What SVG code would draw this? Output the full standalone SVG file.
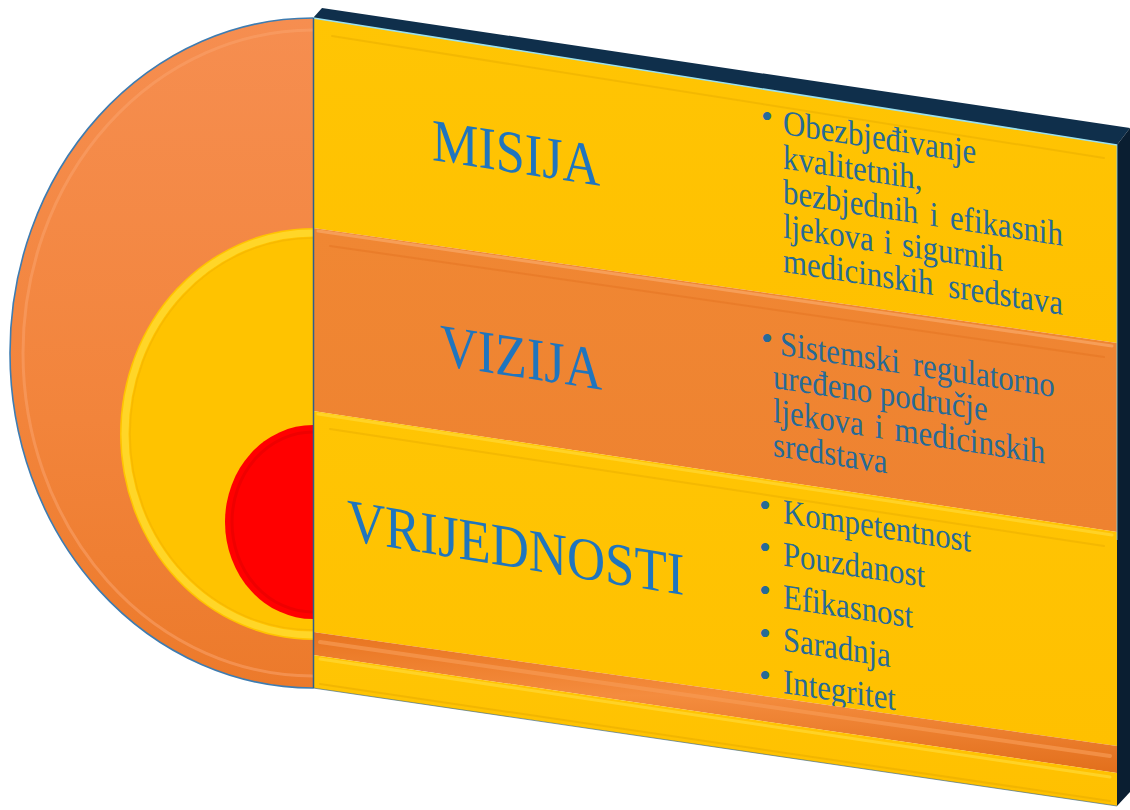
<svg xmlns="http://www.w3.org/2000/svg" width="1130" height="810" viewBox="0 0 1130 810">
<defs>
  <linearGradient id="gOrBig" x1="0" y1="0" x2="0" y2="1">
    <stop offset="0" stop-color="#F68E50"/>
    <stop offset="0.6" stop-color="#F2843B"/>
    <stop offset="1" stop-color="#EC7A2B"/>
  </linearGradient>
  <linearGradient id="gYel" x1="0" y1="0" x2="0" y2="1">
    <stop offset="0" stop-color="#FFC504"/>
    <stop offset="1" stop-color="#FFC000"/>
  </linearGradient>
  <linearGradient id="gOr" x1="0" y1="0" x2="0" y2="1">
    <stop offset="0" stop-color="#F08733"/>
    <stop offset="1" stop-color="#EE8230"/>
  </linearGradient>
  <linearGradient id="gTube" x1="0" y1="0" x2="0" y2="1">
    <stop offset="0" stop-color="#E8741F"/>
    <stop offset="0.45" stop-color="#F48C3E"/>
    <stop offset="1" stop-color="#E26F1C"/>
  </linearGradient>
</defs>
<style>
  .t { font-family: "Liberation Serif", "Times New Roman", serif; }
  .title { font-size: 60px; fill: #1F75BE; }
  .body { font-size: 35px; fill: #266A98; }
  .bul { font-size: 34px; fill: #266A98; }
  .bev { fill: none; stroke-linecap: round; }
</style>
<rect x="0" y="0" width="1130" height="810" fill="#FFFFFF"/>

<g id="outer-semicircle">
  <path d="M313 18 A303 335 0 0 0 313 688 Z" fill="url(#gOrBig)"/>
  <path class="bev" d="M313 30 A290 323 0 0 0 313 676" stroke="#F9A36B" stroke-width="3" opacity="0.55"/>
  <path class="bev" d="M313 18 A303 335 0 0 0 313 688" stroke="#3E7CB1" stroke-width="1.6"/>
</g>
<g id="middle-semicircle">
  <path d="M313 228 A193 206 0 0 0 313 640 Z" fill="#FFC300"/>
  <path class="bev" d="M313 233 A188 201 0 0 0 313 635" stroke="#FFD628" stroke-width="7"/>
  <path class="bev" d="M313 238 A183 196 0 0 0 313 630" stroke="#F2B300" stroke-width="1.5" opacity="0.6"/>
</g>
<g id="inner-semicircle">
  <path d="M313 425 A88 97 0 0 0 313 619 Z" fill="#FF0000"/>
  <path class="bev" d="M313 432 A81 90 0 0 0 313 612" stroke="#E40000" stroke-width="3" opacity="0.6"/>
</g>

<g id="panel-edge">
  <polygon points="313,18 322,8 1130,128 1117,145" fill="#0F2F4B"/>
  <polygon points="1117,145 1130,128 1130,792 1117,806" fill="#0A1E31"/>
</g>

<g id="misija">
  <polygon points="313,18 1117,145 1117,343 313,228" fill="url(#gYel)"/>
  <polyline class="bev" points="332,36 1104,158" stroke="#E9AE00" stroke-width="2" opacity="0.55"/>
  <text class="t title" transform="translate(432,160) skewY(8.7) scale(0.87,1)">MISIJA</text>
  <text class="t bul" x="767" y="128" text-anchor="middle">•</text>
  <text class="t body" transform="translate(783,134) skewY(8.7) scale(0.88,1)">
    <tspan x="0" y="0">Obezbjeđivanje</tspan>
    <tspan x="0" y="34.5">kvalitetnih,</tspan>
    <tspan x="0" y="69" word-spacing="4.5">bezbjednih i efikasnih</tspan>
    <tspan x="0" y="103.5" word-spacing="2.5">ljekova i sigurnih</tspan>
    <tspan x="0" y="138" word-spacing="8">medicinskih sredstava</tspan>
  </text>
</g>

<g id="vizija">
  <polygon points="313,228 1117,343 1117,532 313,411" fill="url(#gOr)"/>
  <polyline class="bev" points="318,231 1112,346" stroke="#F7A461" stroke-width="3" opacity="0.8"/>
  <polyline class="bev" points="330,246 1104,357" stroke="#E2701F" stroke-width="2" opacity="0.45"/>
  <text class="t title" transform="translate(440,365) skewY(8.7) scale(0.87,1)">VIZIJA</text>
  <text class="t bul" x="767" y="350" text-anchor="middle">•</text>
  <text class="t body" transform="translate(780,355) skewY(8.7) scale(0.88,1)">
    <tspan x="0" y="0" word-spacing="6">Sistemski regulatorno</tspan>
    <tspan x="-8" y="34">uređeno područje</tspan>
    <tspan x="-8" y="68" word-spacing="4">ljekova i medicinskih</tspan>
    <tspan x="-8" y="102">sredstava</tspan>
  </text>
</g>

<g id="vrijednosti">
  <polygon points="313,411 1117,532 1117,746 313,632" fill="url(#gYel)"/>
  <polyline class="bev" points="318,414 1112,535" stroke="#FFD42A" stroke-width="3" opacity="0.9"/>
  <polyline class="bev" points="330,429 1104,546" stroke="#E9AE00" stroke-width="2" opacity="0.5"/>
  <text class="t title" transform="translate(347,540) skewY(9.3) scale(0.88,1)">VRIJEDNOSTI</text>
  <text class="t bul" x="765" y="517" text-anchor="middle">•</text>
  <text class="t bul" x="765" y="559" text-anchor="middle">•</text>
  <text class="t bul" x="765" y="602" text-anchor="middle">•</text>
  <text class="t bul" x="765" y="645" text-anchor="middle">•</text>
  <text class="t bul" x="765" y="687" text-anchor="middle">•</text>
  <text class="t body" transform="translate(783,523) skewY(8.7) scale(0.88,1)">
    <tspan x="0" y="0">Kompetentnost</tspan>
    <tspan x="0" y="42.5">Pouzdanost</tspan>
    <tspan x="0" y="85">Efikasnost</tspan>
    <tspan x="0" y="127.5">Saradnja</tspan>
    <tspan x="0" y="170">Integritet</tspan>
  </text>
</g>

<g id="bottom-bands">
  <polygon points="313,632 1117,746 1117,773 313,655" fill="url(#gTube)"/>
  <polyline class="bev" points="320,642 1110,756" stroke="#F79A52" stroke-width="4" opacity="0.7"/>
  <polygon points="313,655 1117,773 1117,806 313,688" fill="url(#gYel)"/>
  <polyline class="bev" points="320,659 1110,777" stroke="#FFD42A" stroke-width="3" opacity="0.9"/>
  <polyline class="bev" points="320,684 1110,801" stroke="#E9AE00" stroke-width="2" opacity="0.6"/>
</g>

<g id="panel-lines">
  <line x1="313" y1="18" x2="1117" y2="145" stroke="#9BE0EE" stroke-width="1.6"/>
  <line x1="1117" y1="145" x2="1117" y2="540" stroke="#8FD3E6" stroke-width="1" opacity="0.8"/>
  <line x1="313.5" y1="18" x2="313.5" y2="688" stroke="#2B5F8E" stroke-width="1.5"/>
  <line x1="313" y1="688" x2="1117" y2="806" stroke="#2B5F8E" stroke-width="1" opacity="0.6"/>
</g>

<g id="connectors"/>
</svg>
